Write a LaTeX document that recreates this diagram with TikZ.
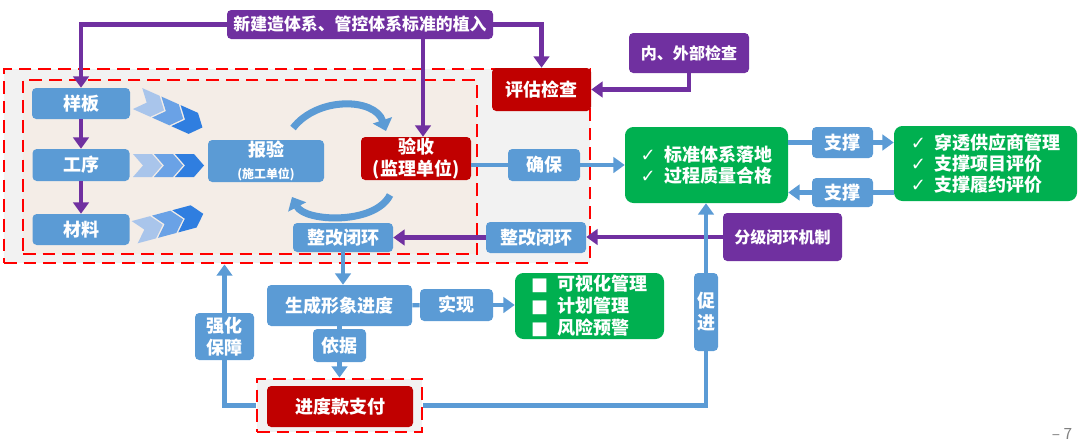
\documentclass[tikz,border=0pt]{standalone}
\usepackage{fontspec}
\setmainfont{Noto Sans CJK SC}
\newfontfamily\symfont{DejaVu Sans}
\usetikzlibrary{arrows.meta,calc}
\definecolor{qblue}{HTML}{5B9BD5}
\definecolor{qpurple}{HTML}{7030A0}
\definecolor{qred}{HTML}{C00000}
\definecolor{qgreen}{HTML}{00B050}
\definecolor{dashred}{HTML}{FF0000}
\definecolor{outerbg}{HTML}{F2F2F2}
\definecolor{innerbg}{HTML}{F4EDE7}
\definecolor{chevA}{HTML}{A9C5EB}
\definecolor{chevB}{HTML}{6AA2E6}
\definecolor{chevC}{HTML}{2F7EE0}
\tikzset{sz/.style 2 args={minimum width=#1*0.025cm,minimum height=#2*0.025cm}}
\newcommand{\chevrow}[3]{%
\begin{scope}[shift={(#1,#2)},rotate=#3]
\foreach \dx/\cc in {-21/chevA,0/chevB,21/chevC}
  \fill[\cc] (\dx-14.5,-11.5) -- (\dx+4.5,-11.5) -- (\dx+14.5,0) -- (\dx+4.5,11.5) -- (\dx-14.5,11.5) -- (\dx-4.5,0) -- cycle;
\end{scope}}
\begin{document}
\begin{tikzpicture}[x=0.025cm,y=-0.025cm]
\tikzstyle{every node}=[text=white,font=\bfseries\fontsize{12.8}{15.5}\selectfont,inner sep=0pt,rounded corners=3pt]
\tikzstyle{bbox}=[fill=qblue]
\tikzstyle{rbox}=[fill=qred]
\tikzstyle{pbox}=[fill=qpurple]
\tikzstyle{gbox}=[fill=qgreen,rounded corners=6pt,align=left]
\tikzstyle{redframe}=[draw=dashred,line width=2pt,dash pattern=on 9pt off 5pt,rounded corners=0pt]
\tikzstyle{parrow}=[qpurple,line width=3pt,-{Triangle[length=8pt,width=11pt]}]
\tikzstyle{barrow}=[qblue,line width=3pt,-{Triangle[length=8pt,width=11pt]}]
\tikzstyle{bline}=[qblue,line width=3pt]
\tikzstyle{arcarrow}=[qblue,line width=5pt,-{Triangle[length=8pt,width=14pt]}]
\useasboundingbox (0,0) rectangle (1080,447);
\node[redframe,fill=outerbg,sz={586}{194}] (outer) at (297,166) {};
\node[redframe,fill=innerbg,sz={454}{174}] (inner) at (250,167) {};
\node[pbox,sz={266}{29},font=\bfseries\fontsize{12}{14}\selectfont] (top) at (360,24.5) {新建造体系、管控体系标准的植入};
\node[bbox,sz={98}{31}] (yb) at (81,103.5) {样板};
\node[bbox,sz={97}{32}] (gx) at (81,165) {工序};
\node[bbox,sz={97}{31}] (cl) at (81,229.5) {材料};
\node[bbox,sz={116}{42},align=center] (by) at (266,161) {报验\\{\fontsize{8.5}{10}\selectfont(施工单位)}};
\node[rbox,sz={110}{43},align=center] (ys) at (416,158.5) {验收\\(监理单位)};
\node[bbox,sz={100}{29}] (zg1) at (343,237.5) {整改闭环};
\node[bbox,sz={100}{31}] (zg2) at (536,237.5) {整改闭环};
\node[rbox,sz={99}{43}] (pg) at (541.5,89.5) {评估检查};
\node[pbox,sz={120}{40},font=\bfseries\fontsize{11.4}{14}\selectfont] (nw) at (689,53) {内、外部检查};
\node[bbox,sz={72}{32}] (qb) at (544,165) {确保};
\node[gbox,sz={163}{76}] (g1) at (706.5,165) {{\symfont\mdseries ✓}\hspace{6pt}标准体系落地\\{\symfont\mdseries ✓}\hspace{6pt}过程质量合格};
\node[bbox,sz={61}{31}] (zc1) at (842.5,142.5) {支撑};
\node[bbox,sz={61}{29}] (zc2) at (842.5,192.5) {支撑};
\node[gbox,sz={183}{75},font=\bfseries\fontsize{12.8}{14.7}\selectfont] (g2) at (985.5,163.5) {{\symfont\mdseries ✓}\hspace{6pt}穿透供应商管理\\{\symfont\mdseries ✓}\hspace{6pt}支撑项目评价\\{\symfont\mdseries ✓}\hspace{6pt}支撑履约评价};
\node[pbox,sz={119}{48},font=\bfseries\fontsize{11.4}{14}\selectfont] (fj) at (782.5,237) {分级闭环机制};
\node[bbox,sz={145}{41}] (sc) at (339.5,305.5) {生成形象进度};
\node[bbox,sz={73}{32}] (sx) at (456.5,305) {实现};
\node[gbox,sz={149}{66}] (g3) at (589.5,306) {{\symfont\mdseries ■}\hspace{7pt}可视化管理\\{\symfont\mdseries ■}\hspace{7pt}计划管理\\{\symfont\mdseries ■}\hspace{7pt}风险预警};
\node[bbox,sz={53}{33}] (yj) at (339.5,345.5) {依据};
\node[redframe,fill=outerbg,sz={165}{53}] (jdf) at (339.5,405.5) {};
\node[rbox,sz={146}{41}] (jd) at (340,406.5) {进度款支付};
\node[bbox,sz={59}{47},align=center] (qh) at (224.5,336.5) {强化\\保障};
\node[bbox,sz={24}{78},align=center] (cj) at (706,312) {促\\进};
\node[text=gray,font=\fontsize{11}{13}\selectfont] (pn) at (1062,434) {– 7};
\chevrow{170}{113}{-24}
\chevrow{168.5}{165.5}{0}
\chevrow{169}{223}{15}
\draw[arcarrow] (293,128) .. controls (318,96) and (375,98) .. (386,131);
\draw[arcarrow] (390,195) .. controls (375,225) and (305,222) .. (292,197);
\draw[parrow] (top.west) -| (yb.north);
\draw[parrow] (top.east) -| (pg.north);
\draw[parrow] (top.south -| 423,0) -- (ys.north -| 423,0);
\draw[parrow] (yb) -- (gx);
\draw[parrow] (gx) -- (cl);
\draw[parrow] (nw.south) |- (pg.east);
\draw[bline] (ys.east |- qb) -- (qb);
\draw[barrow] (qb) -- (g1);
\draw[bline] (g1.east |- zc1) -- (zc1);
\draw[barrow] (zc1) -- (g2.west |- zc1);
\draw[bline] (g2.west |- zc2) -- (zc2);
\draw[barrow] (zc2) -- (g1.east |- zc2);
\draw[parrow] (fj.west) -- (zg2.east |- fj.west);
\draw[parrow] (zg2) -- (zg1);
\draw[barrow] (zg1.south) -- (zg1.south |- sc.north);
\draw[bline] (sc) -- (sx);
\draw[barrow] (sx) -- (g3.west |- sx);
\draw[bline] (sc) -- (yj);
\draw[barrow] (yj) -- (jdf);
\draw[bline] (jdf.east) -| (cj.south);
\draw[barrow] (cj) -- (g1.south -| cj);
\draw[bline] (jdf.west) -| (qh.south);
\draw[barrow] (qh) -- (outer.south -| qh);
\end{tikzpicture}
\end{document}
